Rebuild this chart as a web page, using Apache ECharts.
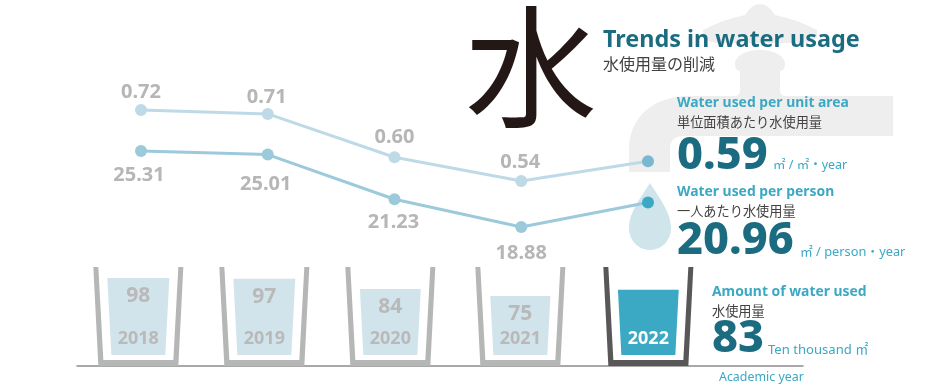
<!DOCTYPE html>
<html>
<head>
<meta charset="utf-8">
<style>html,body{margin:0;padding:0;background:#fff}#chart{width:949px;height:384px}</style>
<script src="https://cdn.jsdelivr.net/npm/echarts@6/dist/echarts.min.js"></script>
</head>
<body>
<div id="chart"></div>
<script>
// Water usage by academic year
const years = [2018, 2019, 2020, 2021, 2022];
const perUnitArea = [0.72, 0.71, 0.60, 0.54, 0.59];
const perPerson = [25.31, 25.01, 21.23, 18.88, 20.96];
const totalUsage = [98, 97, 84, 75, 83];

// Label placement for the two lines and horizontal tweak for each cup
const areaLabelGap = [2, 1, 4, 3, 0];
const personLabelGap = [8, 14, 7, 10, 0];
const areaLabelShift = [0, -1, 0, -1, 0];
const personLabelShift = [-2, -2, -1, 0, 0];
const cupShift = [0, -1.5, -3, -0.5, 0];

const SANS = '"Noto Sans","Noto Sans CJK JP",sans-serif';
const JP = '"Noto Sans CJK JP","Noto Sans",sans-serif';
const DEEP = '#1b6c81', SKY = '#3ba8c4', GREY = '#b6b6b6', INK = '#444140';
const last = years.length - 1;

function lineData(values, gaps, shifts, pos, lineColor, endColor) {
  return values.map((v, i) => ({
    value: v,
    itemStyle: { color: i === last ? endColor : lineColor },
    label: i === last ? { show: false } : {
      show: true, position: pos, distance: gaps[i], offset: [shifts[i], 0],
      formatter: v.toFixed(2), color: GREY,
      fontFamily: SANS, fontWeight: 700, fontSize: 20
    }
  }));
}

function lineSeries(name, idx, values, gaps, shifts, pos, lineColor, endColor) {
  return {
    type: 'line', name, xAxisIndex: idx, yAxisIndex: idx, z: 5,
    symbol: 'circle', symbolSize: 12, silent: true,
    lineStyle: { color: lineColor, width: 3 },
    data: lineData(values, gaps, shifts, pos, lineColor, endColor)
  };
}

// Cup outline and trapezoid fill, sized from the usage scale
function renderCup(params, api) {
  const i = params.dataIndex;
  const year = api.value(0), usage = api.value(1);
  const base = api.coord([year, 0]);
  const top = api.coord([year, usage]);
  const cx = base[0] + cupShift[i];
  const y0 = base[1];
  const hot = i === last;
  const half = y => 27 + (y0 - y) * 0.052;
  const wall = hot ? '#595757' : '#b5b6b6';
  const children = [
    { type: 'polygon', shape: { points: [
        [cx - half(top[1]), top[1]], [cx + half(top[1]), top[1]],
        [cx + 27, y0], [cx - 27, y0]] },
      style: { fill: hot ? SKY : '#d1e4ec' } },
    { type: 'polygon', shape: { points: [
        [cx - 45, y0 - 88], [cx - 40, y0 - 88], [cx - 35, y0 + 5], [cx + 35, y0 + 5],
        [cx + 40, y0 - 88], [cx + 45, y0 - 88], [cx + 40, y0 + 11], [cx - 40, y0 + 11]] },
      style: { fill: wall } },
    { type: 'text', x: cx, y: y0 - 16.5,
      style: { text: String(year), fill: hot ? '#fff' : '#b9b9b9', align: 'center',
        verticalAlign: 'middle', font: '700 18px ' + SANS } }
  ];
  if (!hot) {
    children.push({ type: 'text', x: cx, y: top[1] + 18,
      style: { text: String(usage), fill: '#b9b9b9', align: 'center',
        verticalAlign: 'middle', font: '700 21px ' + SANS } });
  }
  return { type: 'group', children };
}

// Text placed by the vertical centre of its line
function label(text, x, y, font, fill) {
  return { type: 'text', z: 3, silent: true, x, y,
    style: { text, font, fill, align: 'left', verticalAlign: 'middle' } };
}

const faucet = 'M703 30 C716 23 730 18 745 15 C750 7 755 4 760 4 C765 4 770 7 775 15 ' +
  'C790 18 804 23 817 30 L817 38 C812 41 806 43 800 43 L720 43 C714 43 708 41 703 38 Z ' +
  'M735 64 C735 56 746 50 760 50 C774 50 785 56 785 64 C785 68 783 71 780 71 L780 90 ' +
  'C780 94 782 96 786 96 L893 96 L893 136 L684 136 C675 136 670 140 670 149 L670 172 ' +
  'L629 172 L629 150 C629 118 652 96 690 96 L734 96 C738 96 740 94 740 90 L740 71 ' +
  'C737 71 735 68 735 64 Z';
const drop = 'M650 183 C658 196 671 212 671 228 C671 241 661 250 650 250 ' +
  'C639 250 629 241 629 228 C629 212 642 196 650 183 Z';

// Faucet and water drop sit behind everything else
function renderBackdrop() {
  return { type: 'group', children: [
    { type: 'path', shape: { pathData: faucet }, style: { fill: '#eeeeee' } },
    { type: 'path', shape: { pathData: drop }, style: { fill: '#d0e4ec' } }
  ] };
}

const chart = echarts.init(document.getElementById('chart'), null, { renderer: 'canvas' });
chart.setOption({
  animation: false,
  backgroundColor: '#fff',
  grid: [
    { left: 141, width: 507, top: 78.4, height: 118.3 },
    { left: 141, width: 507, top: 142.84, height: 94.56 },
    { left: 77, width: 726, top: 276.4, height: 89.6 }
  ],
  xAxis: [
    { type: 'category', gridIndex: 0, data: years, boundaryGap: false, show: false },
    { type: 'category', gridIndex: 1, data: years, boundaryGap: false, show: false },
    { type: 'value', gridIndex: 2, min: 2017.519, max: 2023.213,
      axisLine: { show: true, onZero: false, lineStyle: { color: '#8c8c8c', width: 1.5 } },
      axisTick: { show: false }, axisLabel: { show: false }, splitLine: { show: false } }
  ],
  yAxis: [
    { type: 'value', gridIndex: 0, min: 0.5, max: 0.8, show: false },
    { type: 'value', gridIndex: 1, min: 18, max: 26, show: false },
    { type: 'value', gridIndex: 2, min: -14, max: 100, show: false }
  ],
  graphic: [
    label('水', 465, 67, '400 132px ' + JP, '#231815'),
    label('Trends in water usage', 603, 40, '700 23.4px ' + SANS, DEEP),
    label('水使用量の削減', 603, 64, '400 16px ' + JP, INK),

    label('Water used per unit area', 677, 103, '700 13.9px ' + SANS, SKY),
    label('単位面積あたり水使用量', 677, 122, '400 13.2px ' + JP, INK),
    label(perUnitArea[last].toFixed(2), 677, 156, '800 45px ' + SANS, DEEP),
    label('㎡ / ㎡・year', 773, 165, '400 12.5px ' + SANS + ',' + JP, SKY),

    label('Water used per person', 677, 192, '700 13.9px ' + SANS, SKY),
    label('一人あたり水使用量', 677, 211, '400 13.2px ' + JP, INK),
    label(perPerson[last].toFixed(2), 677, 241, '800 45px ' + SANS, DEEP),
    label('㎡ / person・year', 800, 252, '400 12.8px ' + SANS + ',' + JP, SKY),

    label('Amount of water used', 712, 292, '700 13.9px ' + SANS, SKY),
    label('水使用量', 712, 311, '400 13.2px ' + JP, INK),
    label(String(totalUsage[last]), 712, 339, '800 45px ' + SANS, DEEP),
    label('Ten thousand ㎡', 768, 350, '400 13.1px ' + SANS + ',' + JP, SKY),
    label('Academic year', 719, 377, '400 12.4px ' + SANS, SKY)
  ],
  series: [
    { type: 'custom', name: 'backdrop', coordinateSystem: 'none', z: 0, silent: true,
      renderItem: renderBackdrop, data: [0] },
    lineSeries('Water used per unit area', 0, perUnitArea, areaLabelGap, areaLabelShift, 'top', '#bedae6', '#7ab8d1'),
    lineSeries('Water used per person', 1, perPerson, personLabelGap, personLabelShift, 'bottom', '#9ccadb', SKY),
    { type: 'custom', name: 'Amount of water used', xAxisIndex: 2, yAxisIndex: 2, z: 3, silent: true,
      clip: false, renderItem: renderCup, encode: { x: 0, y: 1 },
      data: years.map((y, i) => [y, totalUsage[i]]) }
  ]
});
</script>
</body>
</html>
